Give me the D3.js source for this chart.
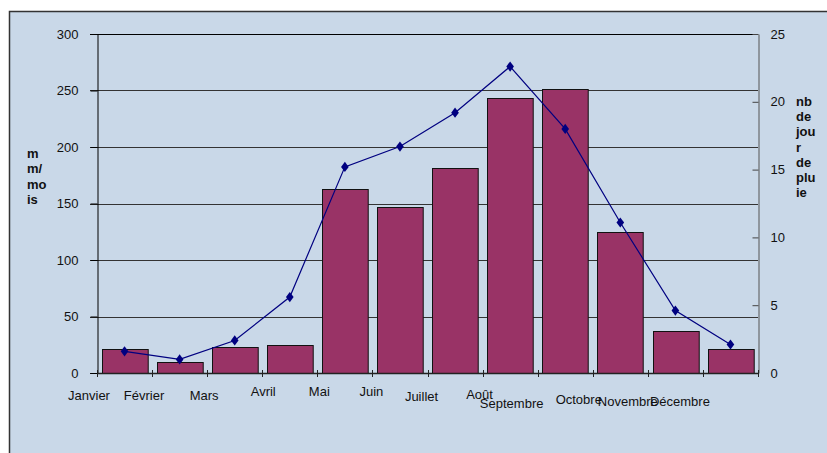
<!DOCTYPE html>
<html><head><meta charset="utf-8">
<script src="https://cdn.jsdelivr.net/npm/d3@7"></script>
<style>body{margin:0;background:#fff}svg{display:block}text{font-family:"Liberation Sans",Arial,sans-serif}</style>
</head><body><svg id="c" width="827" height="453"></svg>
<script>
const months = ["Janvier","Février","Mars","Avril","Mai","Juin","Juillet","Août","Septembre","Octobre","Novembre","Décembre"];
const rainMM = [21, 10, 23, 25, 163, 147, 181, 243, 251, 125, 37, 21];
const rainDays = [1.6, 1.0, 2.4, 5.6, 15.2, 16.7, 19.2, 22.6, 18.0, 11.1, 4.6, 2.1];
const leftTicks = [0, 50, 100, 150, 200, 250, 300];
const rightTicks = [0, 5, 10, 15, 20, 25];
const leftTitle = ["m", "m/", "mo", "is"];
const rightTitle = ["nb", "de", "jou", "r", "de", "plu", "ie"];
// label placement quirks of the original (offset from band start, baseline)
const labelDx = [-8, -8, -3, 1, 2, -1, -6, -3, -26, -14, -20, -23];
const labelDy = [0, 0, 0, -4, -4, -4, 1, -1, 8, 4, 6, 6];

const svg = d3.select("#c");
const L = 97, R = 758, T = 34, B = 373;

svg.append("rect").attr("x", 9.5).attr("y", 11.5).attr("width", 830).attr("height", 450)
  .attr("fill", "#c9d8e8").attr("stroke", "#333").attr("stroke-width", 1.5);

const x = d3.scaleBand().domain(months).range([L, R]).paddingInner(0.17).paddingOuter(0.085);
const xb = d3.scaleBand().domain(months).range([L, R]);
const yL = d3.scaleLinear().domain([0, 300]).range([B, T]);
const yR = d3.scaleLinear().domain([0, 25]).range([B, T]);

// gridlines
svg.append("g").selectAll("line").data(leftTicks).join("line")
  .attr("x1", L - 7).attr("x2", R)
  .attr("y1", d => Math.round(yL(d)) + 0.5).attr("y2", d => Math.round(yL(d)) + 0.5)
  .attr("stroke", d => d === 300 ? "#000" : "#333").attr("stroke-width", 1);

// left axis
const gl = svg.append("g").attr("transform", `translate(${L + 0.5},0)`)
  .call(d3.axisLeft(yL).tickValues(leftTicks).tickSize(7).tickPadding(12));
gl.select(".domain").attr("stroke", "#000");
gl.selectAll(".tick line").attr("stroke", "#000");
gl.selectAll("text").attr("font-size", 13).attr("fill", "#111").attr("font-family", "Liberation Sans, Arial, sans-serif");

// right axis (ticks pointing inward)
const gr = svg.append("g").attr("transform", `translate(${R + 0.5},0)`)
  .call(d3.axisRight(yR).tickValues(rightTicks).tickSizeInner(-6).tickSizeOuter(0).tickPadding(12));
gr.select(".domain").attr("stroke", "#555");
gr.selectAll(".tick line").attr("stroke", "#444");
gr.selectAll("text").attr("font-size", 13).attr("fill", "#111").attr("font-family", "Liberation Sans, Arial, sans-serif");

// bars
svg.append("g").selectAll("rect").data(months).join("rect")
  .attr("x", d => Math.round(x(d)) + 0.5)
  .attr("y", (d, i) => Math.round(yL(rainMM[i])) + 0.5)
  .attr("width", x.bandwidth())
  .attr("height", (d, i) => Math.round(yL(0)) - Math.round(yL(rainMM[i])))
  .attr("fill", "#993366").attr("stroke", "#111").attr("stroke-width", 1);

// x axis
svg.append("line").attr("x1", L).attr("x2", R).attr("y1", B + 0.5).attr("y2", B + 0.5)
  .attr("stroke", "#222").attr("stroke-width", 1.5);
svg.append("g").selectAll("line").data(months.concat(["end"])).join("line")
  .attr("x1", (d, i) => i < 12 ? Math.round(xb(d)) + 0.5 : R + 0.5)
  .attr("x2", (d, i) => i < 12 ? Math.round(xb(d)) + 0.5 : R + 0.5)
  .attr("y1", B - 3).attr("y2", B + 4).attr("stroke", "#222");

svg.append("g").selectAll("text").data(months).join("text")
  .attr("x", (d, i) => xb(d) + labelDx[i])
  .attr("y", (d, i) => 400 + labelDy[i])
  .attr("text-anchor", "middle").attr("font-size", 13).attr("fill", "#111")
  .text(d => d);

// line
const line = d3.line().x((d, i) => xb(months[i]) + xb.bandwidth() / 2).y(d => yR(d));
svg.append("path").datum(rainDays).attr("d", line)
  .attr("fill", "none").attr("stroke", "#000080").attr("stroke-width", 1.2);
svg.append("g").selectAll("path").data(rainDays).join("path")
  .attr("d", d3.symbol(d3.symbolDiamond, 30))
  .attr("transform", (d, i) => `translate(${xb(months[i]) + xb.bandwidth() / 2},${yR(d)}) scale(1.3,1)`)
  .attr("fill", "#000080");

// titles
svg.append("text").attr("x", 27).attr("y", 158).attr("font-size", 13).attr("font-weight", "bold").attr("fill", "#111")
  .selectAll("tspan").data(leftTitle).join("tspan").attr("x", 27).attr("dy", (d, i) => i ? 15.3 : 0).text(d => d);
svg.append("text").attr("x", 796).attr("y", 106).attr("font-size", 13).attr("font-weight", "bold").attr("fill", "#111")
  .selectAll("tspan").data(rightTitle).join("tspan").attr("x", 796).attr("dy", (d, i) => i ? 15.2 : 0).text(d => d);
</script></body></html>
